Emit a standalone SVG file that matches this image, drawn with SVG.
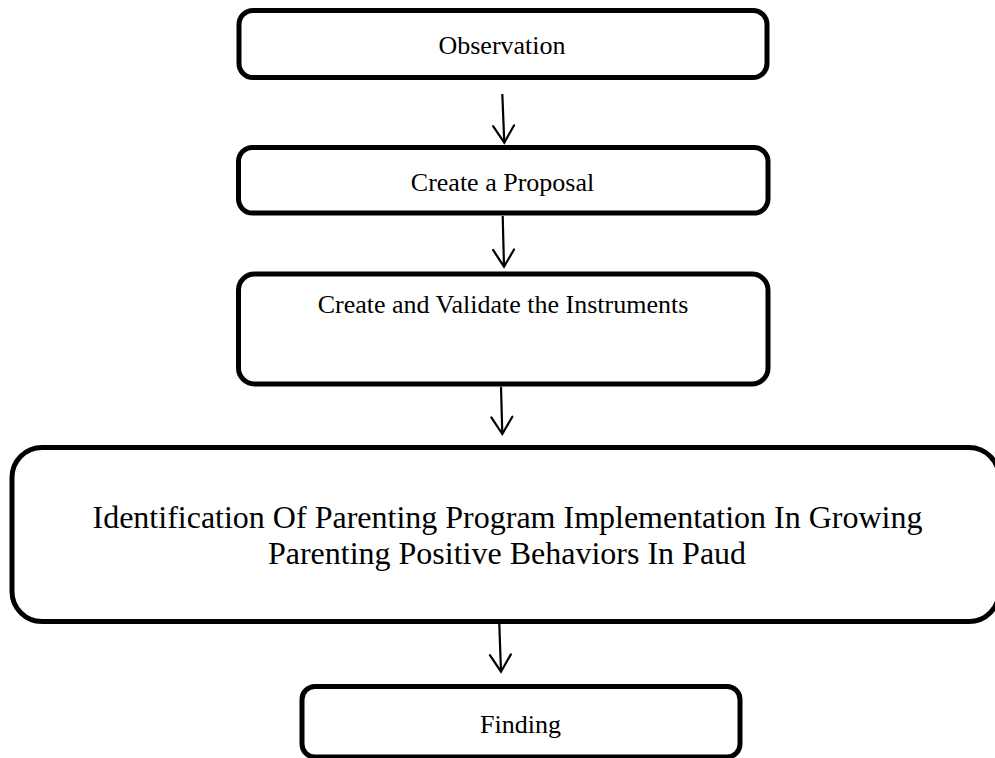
<svg xmlns="http://www.w3.org/2000/svg" width="995" height="758" viewBox="0 0 995 758">
  <style>
    .box { fill: #ffffff; stroke: #000000; stroke-width: 5; }
    .lbl { font-family: "Liberation Serif", "Times New Roman", serif; font-size: 26px; fill: #000000; text-anchor: middle; }
    .big { font-size: 32px; }
    .conn { fill: none; stroke: #000000; stroke-width: 2.2; }
  </style>
  <defs>
    <marker id="vhead" markerUnits="userSpaceOnUse" viewBox="0 0 20 24" markerWidth="20" markerHeight="24" refX="17" refY="12" orient="auto" overflow="visible">
      <path d="M0,1.5 L17,12 L0,22.5" fill="none" stroke="#000000" stroke-width="2.2" stroke-linejoin="miter" stroke-linecap="round"/>
    </marker>
  </defs>
  <rect width="995" height="758" fill="#ffffff"/>

  <g id="n1">
    <rect class="box" x="239" y="10.5" width="528" height="67" rx="14"/>
    <text class="lbl" x="502" y="54">Observation</text>
  </g>
  <g id="n2">
    <rect class="box" x="238.5" y="147.5" width="529.5" height="65.5" rx="14"/>
    <text class="lbl" x="502.5" y="190.5">Create a Proposal</text>
  </g>
  <g id="n3">
    <rect class="box" x="238.5" y="274" width="529.5" height="110" rx="16"/>
    <text class="lbl" x="503" y="313">Create and Validate the Instruments</text>
  </g>
  <g id="n4">
    <rect class="box" x="12" y="447.5" width="987" height="174" rx="30"/>
    <text class="lbl big" x="507.5" y="528">Identification Of Parenting Program Implementation In Growing</text>
    <text class="lbl big" x="507" y="564">Parenting Positive Behaviors In Paud</text>
  </g>
  <g id="n5">
    <rect class="box" x="302" y="686.5" width="438" height="70.5" rx="13"/>
    <text class="lbl" x="520.5" y="733">Finding</text>
  </g>

  <g id="connectors">
    <line class="conn" x1="502.3" y1="94" x2="504.3" y2="142.7" marker-end="url(#vhead)"/>
    <line class="conn" x1="502.7" y1="216" x2="504" y2="266.7" marker-end="url(#vhead)"/>
    <line class="conn" x1="501" y1="386.7" x2="502.3" y2="434" marker-end="url(#vhead)"/>
    <line class="conn" x1="499.3" y1="624" x2="501" y2="671.7" marker-end="url(#vhead)"/>
  </g>
</svg>
